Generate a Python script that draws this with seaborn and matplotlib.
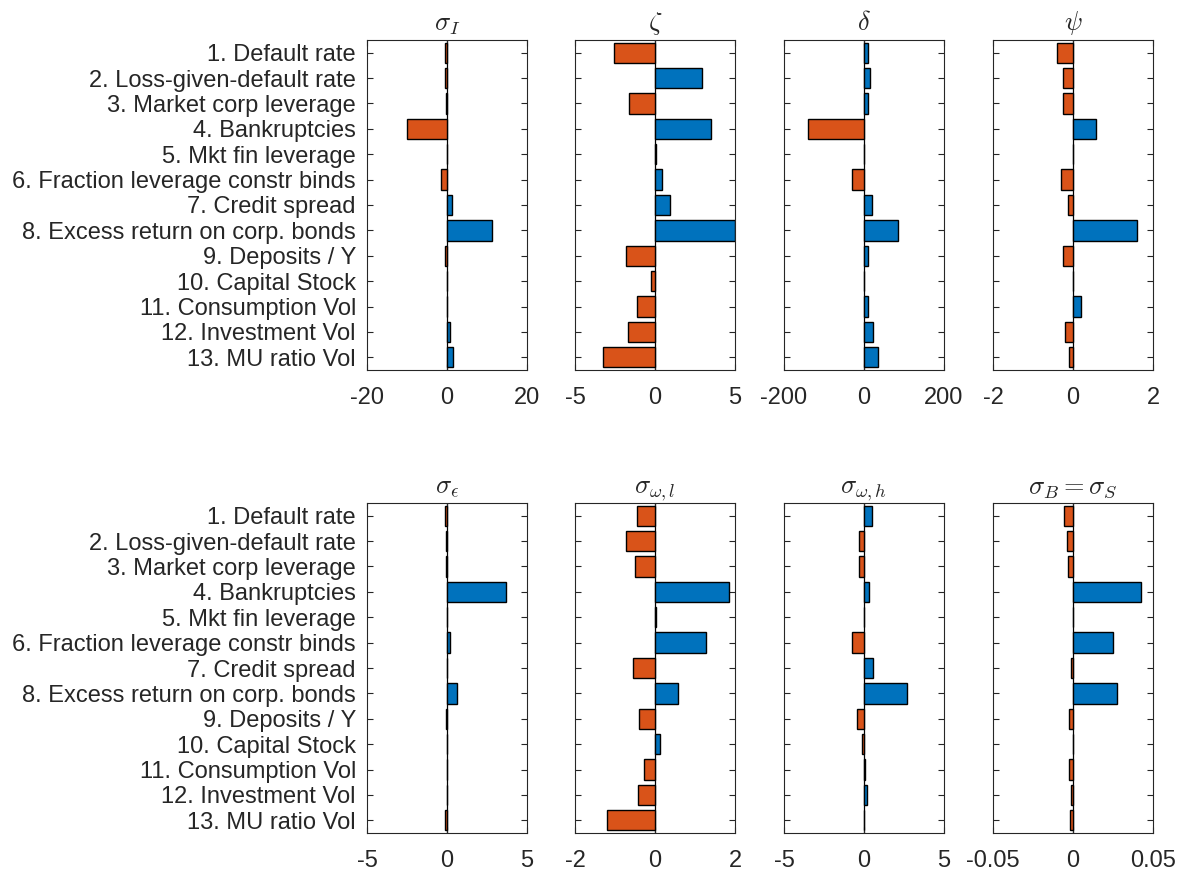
import matplotlib
matplotlib.use("Agg")
import matplotlib.pyplot as plt
import seaborn as sns
import pandas as pd
from matplotlib.ticker import FuncFormatter

# Moment labels (rows of every panel)
labels = [
    "1. Default rate",
    "2. Loss-given-default rate",
    "3. Market corp leverage",
    "4. Bankruptcies",
    "5. Mkt fin leverage",
    "6. Fraction leverage constr binds",
    "7. Credit spread",
    "8. Excess return on corp. bonds",
    "9. Deposits / Y",
    "10. Capital Stock",
    "11. Consumption Vol",
    "12. Investment Vol",
    "13. MU ratio Vol",
]

# Panel titles and axis limits
titles = [r"$\sigma_I$", r"$\zeta$", r"$\delta$", r"$\psi$",
          r"$\sigma_\epsilon$", r"$\sigma_{\omega,l}$", r"$\sigma_{\omega,h}$",
          r"$\sigma_B = \sigma_S$"]
limits = [20, 5, 200, 2, 5, 2, 5, 0.05]

# Sensitivities
sigma_I = [-0.6, -0.4, -0.3, -10.0, -0.05, -1.6, 1.2, 11.2, -0.4, -0.1, 0.05, 0.75, 1.4]
zeta = [-2.55, 2.95, -1.62, 3.5, 0.05, 0.42, 0.93, 4.97, -1.79, -0.25, -1.1, -1.68, -3.26]
delta = [11, 15, 11, -141, -1, -30, 21, 84, 9, -1, 10, 22, 35]
psi = [-0.39, -0.26, -0.25, 0.57, -0.01, -0.29, -0.13, 1.61, -0.26, -0.01, 0.19, -0.2, -0.09]
sigma_eps = [-0.1, -0.05, -0.05, 3.69, 0.01, 0.17, 0.02, 0.63, -0.08, 0.01, 0.01, -0.03, -0.15]
sigma_wl = [-0.44, -0.72, -0.51, 1.84, 0.02, 1.27, -0.56, 0.57, -0.4, 0.12, -0.28, -0.43, -1.19]
sigma_wh = [0.49, -0.3, -0.32, 0.34, 0.0, -0.72, 0.55, 2.68, -0.42, -0.13, 0.05, 0.21, 0.03]
sigma_BS = [-0.0059, -0.004, -0.003, 0.0423, 0.0001, 0.0253, -0.0015, 0.0278,
            -0.0027, 0.0002, -0.0025, -0.001, -0.002]

series = [sigma_I, zeta, delta, psi, sigma_eps, sigma_wl, sigma_wh, sigma_BS]

BLUE = "#0072BD"
ORANGE = "#D95319"

sns.set_theme(style="white")
plt.rcParams["font.family"] = ["Liberation Sans", "DejaVu Sans"]
plt.rcParams["mathtext.fontset"] = "cm"
plt.rcParams["axes.unicode_minus"] = False

fig = plt.figure(figsize=(11.83, 8.73), dpi=100)

W, H = 1183, 873
lefts = [367, 575, 784, 993]
tops = [40, 503]
aw, ah = 160, 330

for i, (vals, title, lim) in enumerate(zip(series, titles, limits)):
    row, col = divmod(i, 4)
    ax = fig.add_axes([lefts[col] / W, 1 - (tops[row] + ah) / H, aw / W, ah / H])
    df = pd.DataFrame({"moment": labels, "value": vals})
    colors = [BLUE if v >= 0 else ORANGE for v in vals]
    sns.barplot(data=df, x="value", y="moment", hue="moment", palette=colors,
                legend=False, orient="h", width=0.8, saturation=1,
                edgecolor="black", linewidth=1.0, ax=ax)
    ax.axvline(0, color="black", lw=0.9, zorder=0.5)

    ax.set_xlim(-lim, lim)
    ax.set_ylim(12.5, -0.5)
    ax.set_xticks([-lim, 0, lim])
    ax.xaxis.set_major_formatter(FuncFormatter(lambda v, p: "%g" % v))
    ax.set_xlabel("")
    ax.set_ylabel("")
    ax.set_title(title, fontsize=19, pad=7)

    ax.tick_params(direction="in", length=4, width=0.8, color="#262626",
                   top=True, right=True, left=True, bottom=True,
                   labelsize=17, labelcolor="#262626", pad=8)
    ax.tick_params(axis="x", pad=12)
    if col != 0:
        ax.set_yticklabels([])
    for s in ax.spines.values():
        s.set_visible(True)
        s.set_color("#262626")
        s.set_linewidth(0.8)

fig.savefig("out.png", dpi=100)
